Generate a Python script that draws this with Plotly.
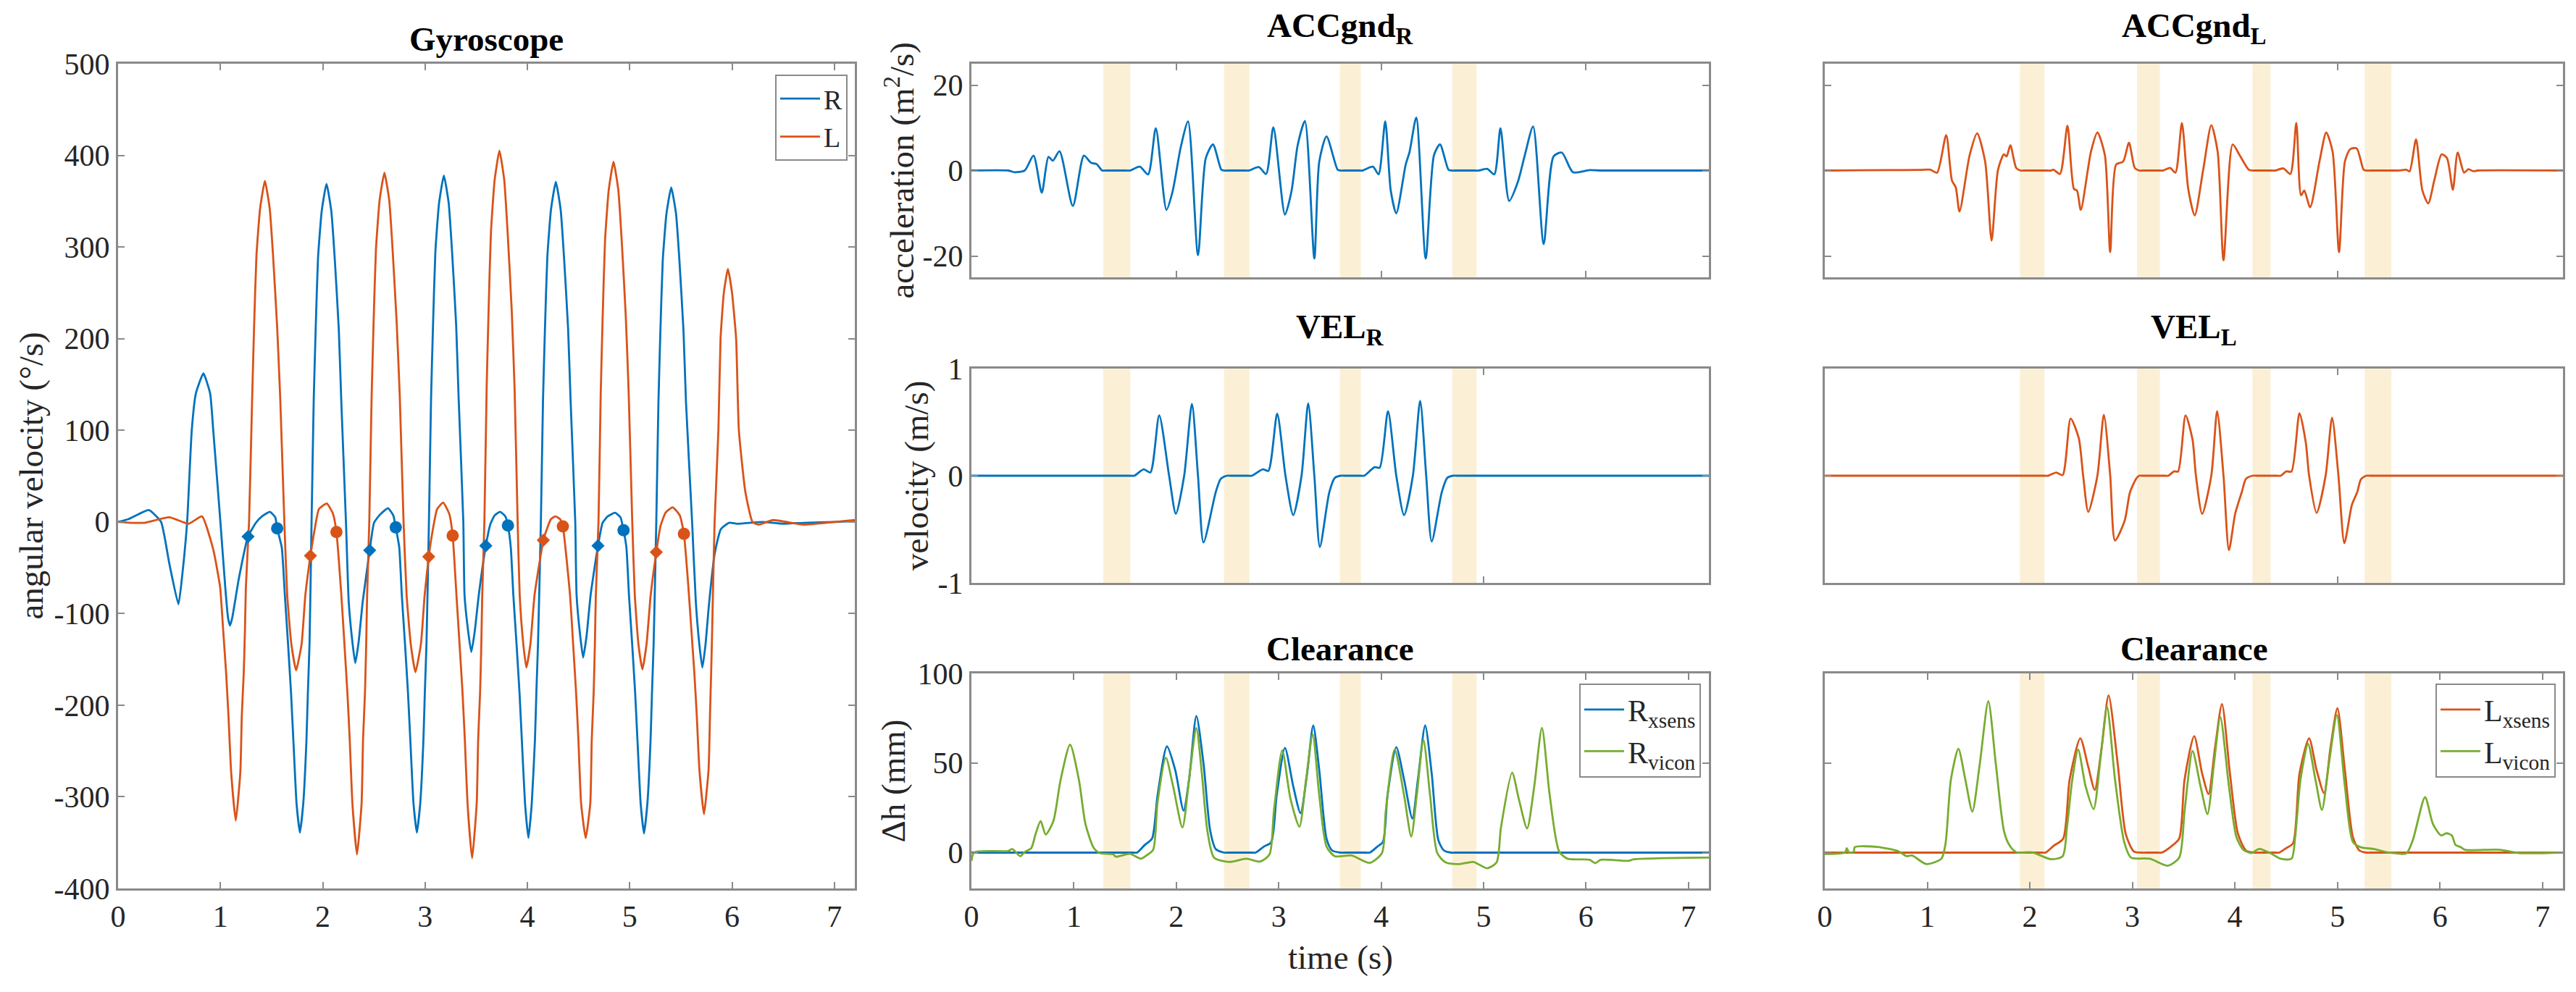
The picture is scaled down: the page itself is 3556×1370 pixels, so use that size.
import plotly.graph_objects as go

W, H = 3556, 1370
BLUE, ORANGE, GREEN = "#0072BD", "#D95319", "#77AC30"
BAND = "#FBF0D6"
GRAY = "#8a8a8a"
FONT = "Liberation Serif"

t_gyro_r = [0,.1,.3,.42,.5,.59,.63,.675,.72,.76,.834,.90,.93,1.0,1.05,1.075,1.094,1.115,1.18,1.27,1.347,1.406,1.484,1.536,1.555,
            1.60,1.63,1.661,1.69,1.713,1.744,1.777,1.81,1.841,1.855,1.871,
            1.891,1.912,1.931,1.954,1.99,2.037,2.084,2.117,2.157,2.181,2.227,
            2.254,2.29,2.318,2.351,2.391,2.459,2.501,2.56,2.638,2.69,2.714,
            2.748,2.773,2.804,2.833,2.856,2.887,2.92,2.953,2.984,2.998,3.014,
            3.038,3.059,3.078,3.101,3.137,3.184,3.231,3.264,3.304,3.328,3.374,
            3.386,3.422,3.452,3.485,3.525,3.594,3.64,3.68,3.733,3.785,3.81,
            3.838,3.863,3.894,3.923,3.946,3.977,4.01,4.043,4.074,4.088,4.104,
            4.132,4.153,4.172,4.195,4.231,4.278,4.325,4.358,4.398,4.422,4.468,
            4.481,4.517,4.545,4.578,4.618,4.69,4.735,4.785,4.857,4.91,4.94,
            4.968,4.993,5.024,5.053,5.076,5.107,5.14,5.173,5.204,5.218,5.234,
            5.26,5.281,5.30,5.323,5.359,5.406,5.453,5.486,5.526,5.55,5.61,
            5.646,5.682,5.71,5.74,5.775,5.83,5.89,5.97,6.05,6.3,6.5,6.7,7.0,7.2]
v_gyro_r = [0,3,13,0,-45,-90,-55,0,100,140,162,140,100,0,-75,-105,-113,-105,-62,-16,-1,6,11,5,-7,
            -28,-80,-133,-186,-238,-307,-339,-307,-238,-186,-133,
            0,133,210,288,339,369,339,288,210,133,0,
            -87,-131,-154,-131,-87,-31,-1,8,15,7,-6,
            -28,-80,-133,-186,-238,-307,-339,-307,-238,-186,-133,
            0,136,215,295,348,378,348,295,215,136,0,
            -80,-120,-142,-120,-80,-26,-2,7,11,6,-4,
            -28,-80,-133,-186,-238,-307,-345,-307,-238,-186,-133,
            0,134,211,289,341,371,341,289,211,134,0,
            -80,-125,-148,-125,-80,-26,-1,6,10,5,-9,
            -28,-80,-133,-186,-238,-307,-340,-307,-238,-186,-133,
            0,131,208,285,336,365,336,285,208,131,0,
            -87,-135,-159,-135,-90,-35,-8,-1,-2,0,-2,-1,0,1]
t_gyro_l = [0,.15,.26,.5,.69,.82,.93,.997,1.027,1.056,1.079,1.105,1.15,1.195,1.209,1.228,1.24,1.249,
            1.28,1.31,1.329,1.352,1.388,1.435,1.482,1.515,1.555,1.585,1.625,
            1.653,1.693,1.74,1.794,1.83,1.88,1.92,1.963,2.04,2.10,2.134,
            2.182,2.212,2.241,2.264,2.29,2.335,2.38,2.394,2.413,2.425,2.434,
            2.455,2.478,2.497,2.52,2.556,2.603,2.65,2.683,2.723,2.753,2.79,
            2.82,2.86,2.906,2.96,2.996,3.036,3.075,3.118,3.177,3.236,3.27,
            3.307,3.337,3.366,3.389,3.415,3.46,3.505,3.519,3.538,3.55,3.559,
            3.58,3.602,3.621,3.644,3.68,3.727,3.774,3.807,3.847,3.875,3.905,
            3.925,3.96,3.99,4.03,4.07,4.156,4.19,4.23,4.274,4.32,4.347,
            4.417,4.447,4.476,4.499,4.525,4.57,4.615,4.629,4.648,4.66,4.669,
            4.695,4.717,4.736,4.759,4.795,4.842,4.889,4.922,4.962,4.99,5.025,
            5.05,5.085,5.124,5.165,5.205,5.26,5.30,5.35,5.42,5.49,5.53,
            5.573,5.603,5.632,5.655,5.681,5.726,5.771,5.785,5.796,5.806,5.815,
            5.83,5.867,5.888,5.92,5.96,6.0,6.04,6.067,6.13,6.2,6.26,6.4,6.7,7.0,7.2]
v_gyro_l = [0,-1,-1,5,-2,6,-30,-71,-118,-165,-212,-273,-326,-273,-212,-165,-118,-71,
            0,134,212,290,342,372,342,290,212,134,0,
            -80,-133,-162,-133,-80,-37,-9,14,20,9,-11,
            -80,-133,-186,-238,-307,-363,-307,-238,-186,-133,-80,
            0,137,217,297,351,381,351,297,217,137,0,
            -80,-133,-164,-133,-80,-38,-9,14,21,9,-15,
            -80,-133,-186,-238,-307,-367,-307,-238,-186,-133,-80,
            0,146,231,316,373,405,373,316,231,146,0,
            -80,-133,-159,-133,-80,-20,-8,3,6,3,-5,
            -80,-133,-186,-238,-307,-345,-307,-238,-186,-133,-80,
            0,141,224,307,362,393,362,307,224,141,0,
            -80,-133,-161,-133,-80,-33,-5,10,16,7,-13,
            -70,-118,-165,-210,-270,-319,-270,-210,-165,-118,-70,
            0,100,200,250,276,250,200,100,33,0,-3,2,-3,0,2]

band_r_start = [1.287, 2.466, 3.597, 4.694]
band_r_end = [1.552, 2.715, 3.802, 4.932]
band_l_start = [1.903, 3.045, 4.171, 5.266]
band_l_end = [2.143, 3.269, 4.348, 5.527]

diamond_r_t = [1.27, 2.459, 3.594, 4.69]
diamond_r_v = [-16, -31, -26, -26]
circle_r_t = [1.555, 2.714, 3.81, 4.94]
circle_r_v = [-7, -6, -4, -9]
diamond_l_t = [1.88, 3.036, 4.156, 5.26]
diamond_l_v = [-37, -38, -20, -33]
circle_l_t = [2.134, 3.27, 4.347, 5.53]
circle_l_v = [-11, -15, -5, -13]

t_acc_r = [0,.36,.42,.52,.606,.687,.752,.795,.86,.99,1.098,1.168,1.222,1.276,1.31,1.51,1.547,1.644,1.725,1.80,1.904,1.963,2.044,2.115,2.212,2.288,2.358,2.44,2.466,2.5,2.68,2.71,2.807,2.877,2.948,3.061,3.126,3.185,3.256,3.348,3.396,3.467,3.575,3.60,3.63,3.79,3.818,3.92,3.975,4.04,4.094,4.148,4.24,4.278,4.343,4.435,4.516,4.575,4.657,4.684,4.72,4.92,4.954,5.035,5.105,5.165,5.25,5.333,5.403,5.484,5.587,5.684,5.765,5.873,6.036,6.144,6.2,7.15,7.2]
v_acc_r = [0,0,-.4,0,3.5,-5.2,3.2,2.3,4.5,-8.3,3.5,1.8,1.5,0,0,0,0,.9,-.9,9.9,-9.2,-5,5.5,11.5,-19.8,2.9,6.1,.2,0,0,0,0,.8,-.8,10.1,-10.3,-4.7,5.9,11.6,-20.6,2.1,8,.2,0,0,0,0,.9,-.9,11.5,-4.7,-10,1.4,4.4,12.4,-20.6,3.6,6.1,.2,0,0,0,0,.4,-.9,9.9,-7.1,-2.8,3.6,10.3,-17.2,3.3,4.2,-.4,.1,0,0,0,0]
t_acc_l = [0,.05,.615,.93,1.03,1.095,1.184,1.241,1.277,1.314,1.413,1.486,1.564,1.627,1.689,1.747,1.773,1.81,1.867,1.908,1.94,2.17,2.205,2.23,2.294,2.367,2.43,2.46,2.497,2.596,2.659,2.732,2.784,2.842,2.91,2.967,3.024,3.066,3.1,3.27,3.30,3.368,3.42,3.483,3.545,3.608,3.691,3.77,3.832,3.889,3.978,4.046,4.135,4.171,4.2,4.36,4.395,4.473,4.541,4.599,4.645,4.677,4.734,4.828,4.891,4.953,5.016,5.073,5.125,5.188,5.255,5.281,5.32,5.56,5.594,5.672,5.704,5.767,5.829,5.886,5.944,6.017,6.069,6.126,6.173,6.236,6.277,6.324,6.37,7.15,7.2]
v_acc_l = [0,0,.1,.15,.2,-.5,8.3,-2.4,-3.9,-9.6,3.6,8.7,2.1,-16.4,.1,3.8,3.3,5.9,.6,0,0,0,0,.2,-.8,10.5,-4.3,-4.7,-9.2,4.4,8.9,3.6,-19.1,1.4,2.1,6.5,.6,0,0,0,0,.6,-.5,11.1,-4.3,-10.5,.2,10.6,4.4,-21,6.1,3.6,.2,0,0,0,0,.5,-.8,11.1,-5.8,-4.7,-8.6,2.5,8.9,4.4,-19.1,2.1,5,5.2,.2,0,0,0,0,.2,-.2,7.3,-4.7,-7.7,-2.4,3.8,2.9,-4.5,4.2,-.5,.3,-.15,0,0,0]

t_vel_r = [0,.05,1.55,1.59,1.682,1.747,1.833,1.93,1.996,2.077,2.153,2.212,2.266,2.385,2.434,2.493,2.53,2.70,2.737,2.845,2.899,2.985,3.066,3.142,3.223,3.288,3.348,3.402,3.494,3.548,3.602,3.64,3.80,3.835,3.937,3.986,4.067,4.148,4.224,4.31,4.381,4.44,4.494,4.592,4.646,4.70,4.74,7.15,7.2]
v_vel_r = [0,0,0,0,.06,.03,.563,0,-.356,0,.669,0,-.623,-.154,-.03,0,0,0,0,.06,.045,.578,0,-.368,0,.675,0,-.665,-.154,-.02,0,0,0,0,.08,.075,.602,0,-.368,0,.699,0,-.614,-.154,-.02,0,0,0,0]
t_vel_l = [0,.05,2.14,2.179,2.258,2.32,2.398,2.477,2.52,2.57,2.659,2.722,2.784,2.831,2.925,2.977,3.04,3.066,3.1,3.32,3.352,3.405,3.446,3.519,3.587,3.62,3.681,3.77,3.827,3.889,3.942,4.004,4.067,4.108,4.171,4.21,4.41,4.447,4.50,4.552,4.63,4.692,4.724,4.797,4.885,4.948,5.01,5.068,5.141,5.193,5.23,5.281,5.32,7.15,7.2]
v_vel_l = [0,0,0,0,.03,.006,.533,.352,0,-.338,0,.569,0,-.605,-.42,-.154,-.024,0,0,0,0,.04,.04,.563,.337,0,-.356,0,.602,0,-.694,-.35,-.154,-.03,0,0,0,0,.04,.04,.584,.307,0,-.347,0,.542,0,-.629,-.273,-.154,-.033,0,0,0,0]

t_clr_rx = [0,.05,1.58,1.617,1.693,1.763,1.817,1.909,1.99,2.071,2.125,2.196,2.266,2.331,2.385,2.466,2.5,2.74,2.774,2.856,2.926,2.98,3.061,3.142,3.213,3.277,3.337,3.396,3.467,3.521,3.602,3.64,3.85,3.889,3.964,4.018,4.062,4.148,4.224,4.305,4.359,4.43,4.494,4.559,4.613,4.684,4.72,7.15,7.2]
v_clr_rx = [0,0,0,0,4.3,7.8,31.8,59.3,46,23.4,40.7,76.2,49.6,12.3,2,0,0,0,0,3.4,5.7,31.8,58.4,37,22,44,70.9,46,7.8,1.2,0,0,0,0,3.4,6,31.8,58.8,40.7,19,40.7,70.9,44,6.9,1.2,0,0,0,0]
t_clr_rv = [0,.027,.357,.40,.476,.52,.584,.627,.676,.725,.80,.871,.963,1.049,1.114,1.195,1.249,1.385,1.41,1.547,1.655,1.709,1.774,1.817,1.898,1.969,2.06,2.131,2.196,2.25,2.304,2.369,2.52,2.683,2.818,2.91,2.953,3.034,3.115,3.202,3.267,3.332,3.396,3.467,3.548,3.71,3.889,4.008,4.045,4.132,4.224,4.294,4.348,4.413,4.478,4.548,4.63,4.765,4.9,5.035,5.127,5.17,5.279,5.344,5.425,5.495,5.57,5.646,5.738,5.82,6.036,6.09,6.144,6.414,6.468,7.17,7.2]
v_clr_rv = [-4.6,.2,.9,2,-2,.4,2.5,10.5,17.6,10.1,17.6,40.7,60.2,40.7,15.8,2.5,-.2,-1,-2.3,-.7,-3.4,-1.6,1.6,28,53,37,14,44,69.5,44,12,-2.8,-5.2,-3.4,-5,-1,23,57,30,14.4,40.7,66,32,3.4,-2,-1.6,-5.7,-.2,23,57.5,32,9,32,62.9,32,-.2,-5.5,-6.4,-5.2,-8.7,-5.5,14,44.6,30,13.5,37,69.6,32,.7,-3.4,-4,-5.9,-4,-4.6,-3.7,-2.8,-2.8]
t_clr_lx = [0,.05,2.12,2.153,2.23,2.325,2.388,2.492,2.57,2.633,2.70,2.768,2.857,2.935,3.014,3.09,3.13,3.25,3.285,3.378,3.457,3.509,3.603,3.681,3.743,3.806,3.874,3.952,4.03,4.108,4.187,4.23,4.4,4.432,4.5,4.567,4.63,4.724,4.797,4.87,4.932,5.0,5.073,5.151,5.214,5.281,5.32,7.15,7.2]
v_clr_lx = [0,0,0,0,3.7,7.8,40.7,63.8,47.8,35,58.4,87.7,49.6,10.5,.7,0,0,0,0,3.4,7.8,40.7,65,44,32.7,58.4,82.9,44,10.5,1.2,0,0,0,0,2.5,5.2,44,63.8,46,33.2,58.4,80.5,46,8.7,1.2,0,0,0,0]
t_clr_lv = [0,.198,.214,.235,.282,.292,.511,.72,.798,.85,.991,1.137,1.178,1.23,1.303,1.371,1.439,1.512,1.595,1.668,1.747,1.799,1.867,2.023,2.205,2.32,2.362,2.414,2.471,2.544,2.622,2.69,2.753,2.831,2.92,2.987,3.17,3.342,3.457,3.509,3.587,3.665,3.733,3.796,3.858,3.942,4.015,4.082,4.161,4.239,4.343,4.447,4.552,4.588,4.64,4.713,4.786,4.849,4.917,4.995,5.073,5.151,5.229,5.36,5.49,5.672,5.735,5.855,5.933,6.011,6.064,6.116,6.152,6.204,6.246,6.585,6.768,7.2]
v_clr_lv = [-.7,.2,2.5,.2,.4,3,3.2,.7,-2,-1.6,-6.4,-3.4,5.2,40.7,57.9,40.7,22.9,49.6,84.5,49.6,12.3,4.3,.2,.2,-3.7,-2,14,40.7,57.5,37,24.3,53,81.5,40.7,6,-2.8,-3.4,-7.3,-2.8,23,56.7,37,21.5,49.6,75.7,37,8.7,1.6,-.2,2.1,-.2,-3.4,-3.4,8.7,40.7,60.7,40.7,23.8,49.6,76.7,37,6,3,2,.2,-.4,6.9,30.9,15.8,9.6,10.8,9.6,4.3,3,1.6,1.6,-.2,0]

x_ticks = [0, 1, 2, 3, 4, 5, 6, 7]
x_tick_text = ["0", "1", "2", "3", "4", "5", "6", "7"]
gyro_ticks = [-400,-300,-200,-100,0,100,200,300,400,500]
gyro_tick_text = ["-400","-300","-200","-100","0","100","200","300","400","500"]
acc_ticks = [-20, 0, 20]
acc_tick_text = ["-20", "0", "20"]
vel_ticks = [-1, 0, 1]
vel_tick_text = ["-1", "0", "1"]
clr_ticks = [0, 50, 100]
clr_tick_text = ["0", "50", "100"]

panels = {
    "gyro": dict(px=(163, 1180), py=(88, 1227), yr=(-400, 500), yt=gyro_ticks, yl=gyro_tick_text),
    "acc_r": dict(px=(1341, 2359), py=(88, 383), yr=(-25, 25), yt=acc_ticks, yl=acc_tick_text),
    "vel_r": dict(px=(1341, 2359), py=(509, 805), yr=(-1, 1), yt=vel_ticks, yl=vel_tick_text),
    "clr_r": dict(px=(1341, 2359), py=(930, 1227), yr=(-20, 100), yt=clr_ticks, yl=clr_tick_text),
    "acc_l": dict(px=(2519, 3538), py=(88, 383), yr=(-25, 25), yt=acc_ticks, yl=acc_tick_text),
    "vel_l": dict(px=(2519, 3538), py=(509, 805), yr=(-1, 1), yt=vel_ticks, yl=vel_tick_text),
    "clr_l": dict(px=(2519, 3538), py=(930, 1227), yr=(-20, 100), yt=clr_ticks, yl=clr_tick_text),
}
names = list(panels)
fig = go.Figure()
layout = dict(width=W, height=H, margin=dict(l=0, r=0, t=0, b=0, pad=0, autoexpand=False), autosize=False,
              paper_bgcolor="white", plot_bgcolor="white", font=dict(family=FONT, color="black", size=42),
              shapes=[], annotations=[])

axis_titles_y = {"gyro": ("angular velocity (°/s)", 42), "acc_r": ("acceleration (m<sup>2</sup>/s)", 1242),
                 "vel_r": ("velocity (m/s)", 1265), "clr_r": ("Δh (mm)", 1232)}
titles = {"gyro": ("Gyroscope", 82), "acc_r": ("ACCgnd<sub>R</sub>", 70), "acc_l": ("ACCgnd<sub>L</sub>", 70),
          "vel_r": ("VEL<sub>R</sub>", 486), "vel_l": ("VEL<sub>L</sub>", 486),
          "clr_r": ("Clearance", 924), "clr_l": ("Clearance", 924)}
visible_x = {"gyro": x_ticks, "acc_r": [2,4,6], "vel_r": [5], "clr_r": x_ticks,
             "acc_l": [5], "vel_l": [5], "clr_l": x_ticks}

def dom(n, px_x, px_y):
    p = panels[n]
    return (px_x-p["px"][0])/(p["px"][1]-p["px"][0]), (p["py"][1]-px_y)/(p["py"][1]-p["py"][0])

for i, n in enumerate(names, 1):
    p = panels[n]
    sfx = "" if i == 1 else str(i)
    xd = [p["px"][0]/W, p["px"][1]/W]
    yd = [1-p["py"][1]/H, 1-p["py"][0]/H]
    show_x = n in ("gyro", "clr_r", "clr_l")
    show_y = n in ("gyro", "acc_r", "vel_r", "clr_r")
    layout["xaxis"+sfx] = dict(domain=xd, range=[0, 7.2], anchor="y"+sfx,
                               tickvals=x_ticks if show_x else visible_x[n], ticktext=x_tick_text if show_x else [str(v) for v in visible_x[n]],
                               ticks="inside", ticklen=9, tickwidth=2, tickcolor=GRAY, showgrid=False, zeroline=False,
                               showline=True, linecolor=GRAY, linewidth=3, mirror="allticks",
                               showticklabels=show_x, tickfont=dict(size=42, family=FONT, color="#262626"))
    layout["yaxis"+sfx] = dict(domain=yd, range=list(p["yr"]), anchor="x"+sfx, tickvals=p["yt"], ticktext=p["yl"],
                               ticks="inside", ticklen=9, tickwidth=2, tickcolor=GRAY, showgrid=False, zeroline=False,
                               showline=True, linecolor=GRAY, linewidth=3, mirror="allticks",
                               showticklabels=show_y, tickfont=dict(size=42, family=FONT, color="#262626"))
    if n in axis_titles_y:
        txt, cx = axis_titles_y[n]
        ax_, ay_ = dom(n, cx, (p["py"][0]+p["py"][1])/2)
        layout["annotations"].append(dict(text=txt, textangle=-90, x=ax_, y=ay_, xref="x"+sfx+" domain", yref="y"+sfx+" domain",
                                          showarrow=False, xanchor="center", yanchor="middle", font=dict(size=47, family=FONT, color="#262626")))
    txt, base = titles[n]
    ax_, ay_ = dom(n, (p["px"][0]+p["px"][1])/2, base)
    layout["annotations"].append(dict(text="<b>"+txt+"</b>", x=ax_, y=ay_, xref="x"+sfx+" domain", yref="y"+sfx+" domain",
                                      showarrow=False, xanchor="center", yanchor="bottom", font=dict(size=47, family=FONT, color="black")))
    if n.endswith("_r") or n.endswith("_l"):
        st, en = (band_r_start, band_r_end) if n.endswith("_r") else (band_l_start, band_l_end)
        for a, b in zip(st, en):
            layout["shapes"].append(dict(type="rect", layer="below", xref="x"+sfx, yref="y"+sfx+" domain", x0=a, x1=b, y0=0, y1=1,
                                         fillcolor=BAND, line=dict(width=0)))

def line(t, v, c, name, ax, legend=None, smoothing=0.7):
    fig.add_trace(go.Scatter(x=t, y=v, mode="lines", name=name, line=dict(color=c, width=2.8, shape="spline", smoothing=smoothing),
                             xaxis="x"+ax, yaxis="y"+ax, showlegend=legend is not None, legend=legend or "legend"))

def marks(t, v, c, sym, ax):
    fig.add_trace(go.Scatter(x=t, y=v, mode="markers", marker=dict(color=c, symbol=sym, size=14 if sym == "diamond" else 17),
                             xaxis="x"+ax, yaxis="y"+ax, showlegend=False))

line(t_gyro_r, v_gyro_r, BLUE, "R", "", "legend", smoothing=0.45)
line(t_gyro_l, v_gyro_l, ORANGE, "L", "", "legend", smoothing=0.45)
marks(diamond_r_t, diamond_r_v, BLUE, "diamond", "")
marks(circle_r_t, circle_r_v, BLUE, "circle", "")
marks(diamond_l_t, diamond_l_v, ORANGE, "diamond", "")
marks(circle_l_t, circle_l_v, ORANGE, "circle", "")
line(t_acc_r, v_acc_r, BLUE, "ACC R", "2")
line(t_vel_r, v_vel_r, BLUE, "VEL R", "3")
line(t_clr_rx, v_clr_rx, BLUE, "R<sub>xsens</sub>", "4", "legend2")
line(t_clr_rv, v_clr_rv, GREEN, "R<sub>vicon</sub>", "4", "legend2")
line(t_acc_l, v_acc_l, ORANGE, "ACC L", "5")
line(t_vel_l, v_vel_l, ORANGE, "VEL L", "6")
line(t_clr_lx, v_clr_lx, ORANGE, "L<sub>xsens</sub>", "7", "legend3")
line(t_clr_lv, v_clr_lv, GREEN, "L<sub>vicon</sub>", "7", "legend3")

ax_, ay_ = dom("clr_r", 1850, 1322)
layout["annotations"].append(dict(text="time (s)", x=ax_, y=ay_, xref="x4 domain", yref="y4 domain", showarrow=False,
                                  xanchor="center", yanchor="middle", font=dict(size=47, family=FONT, color="#262626")))

def legend(px, py, size):
    return dict(x=px/W, y=1-py/H, xref="paper", yref="paper", xanchor="left", yanchor="top", bgcolor="white",
                bordercolor=GRAY, borderwidth=2, font=dict(size=size, family=FONT, color="#262626"), itemwidth=55,
                tracegroupgap=0, itemclick=False, itemdoubleclick=False)

layout["legend"] = legend(1070, 103, 38)
layout["legend2"] = legend(2180, 944, 42)
layout["legend3"] = legend(3362, 944, 42)
fig.update_layout(**layout)
fig.write_html("out.html", config={"displayModeBar": False}, post_script="document.body.style.margin='0';")
